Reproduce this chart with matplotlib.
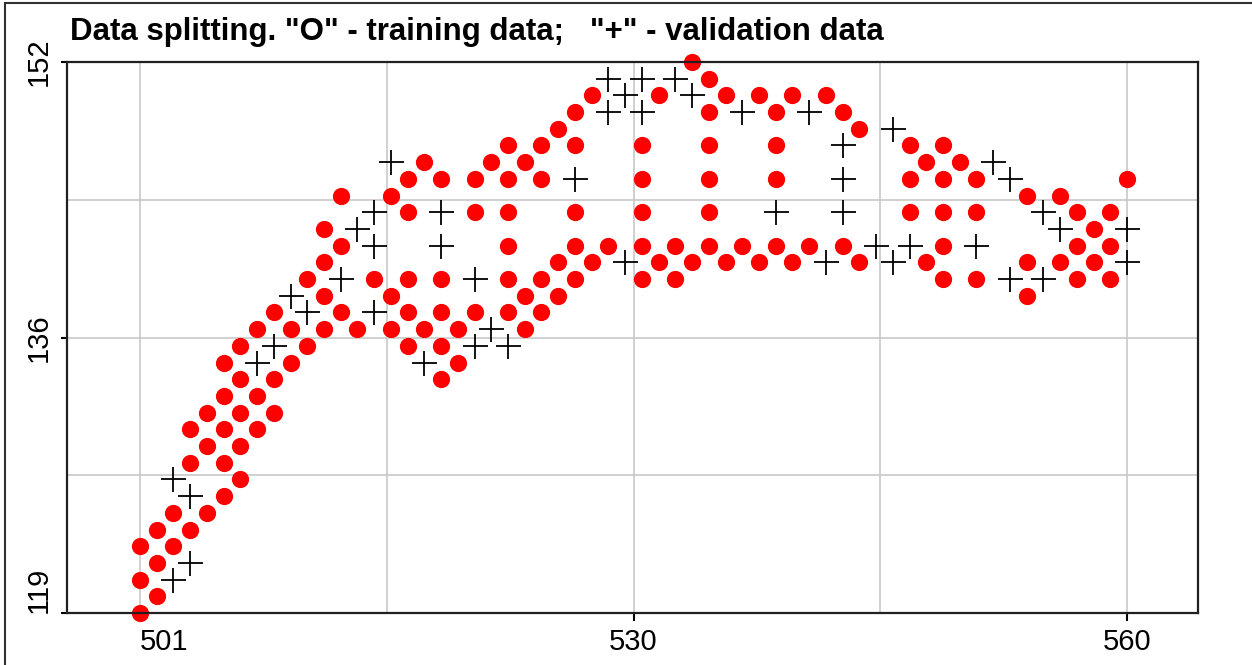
import matplotlib.pyplot as plt
from matplotlib.lines import Line2D

# observation days on the x axis
days = [501, 502, 503, 504, 505, 506, 507, 508, 509, 510,
        511, 512, 513, 514, 515, 516, 517, 518, 519, 520,
        521, 522, 523, 524, 525, 526, 527, 528, 529, 530,
        531, 532, 533, 534, 535, 536, 537, 538, 539, 540,
        541, 542, 543, 544, 545, 546, 547, 548, 549, 550,
        551, 552, 553, 554, 555, 556, 557, 558, 559, 560]

# training levels for each day (same order as days)
train_levels = [
    [119, 121, 123], [120, 122, 124], [123, 125], [124, 128, 130],
    [125, 129, 131], [126, 128, 130, 132, 134], [127, 129, 131, 133, 135],
    [130, 132, 136], [131, 133, 137], [134, 136],
    [135, 139], [136, 138, 140, 142], [137, 141, 144], [136], [139],
    [136, 138, 144], [135, 137, 139, 143, 145], [136, 146],
    [133, 135, 137, 139, 145], [134, 136],
    [137, 143, 145], [146], [137, 139, 141, 143, 145, 147], [136, 138, 146],
    [137, 139, 145, 147], [138, 140, 148], [139, 141, 143, 147, 149],
    [140, 150], [141], [],
    [139, 141, 143, 145, 147], [140, 150], [139, 141], [140, 152],
    [141, 143, 145, 147, 149, 151], [140, 150], [141], [140, 150],
    [141, 145, 147, 149], [140, 150],
    [141], [150], [141, 149], [140, 148], [], [], [143, 145, 147],
    [140, 146], [139, 141, 143, 145, 147], [146],
    [139, 143, 145], [], [], [138, 140, 144], [], [140, 144],
    [139, 141, 143], [140, 142], [139, 141, 143], [145],
]

# validation points
valid_days = [503, 503, 504, 504, 508, 509, 510, 511, 513, 514,
              515, 515, 515, 516, 518, 519, 519, 521, 521, 522,
              523, 527, 529, 529, 530, 530, 531, 531, 533, 534,
              537, 539, 541, 542, 543, 543, 543, 545, 546, 546,
              547, 551, 552, 553, 553, 555, 555, 556, 560, 560]
valid_levels = [121, 127, 122, 126, 134, 135, 138, 137, 139, 142,
                137, 141, 143, 146, 134, 141, 143, 135, 139, 136,
                135, 145, 149, 151, 140, 150, 149, 151, 151, 150,
                149, 143, 149, 140, 143, 145, 147, 141, 140, 148,
                141, 141, 146, 139, 145, 139, 143, 142, 140, 142]

x_grid = [501, 515.75, 530.5, 545.25, 560]
y_grid = [119, 127.25, 135.5, 143.75, 152]

plt.rcParams['font.family'] = ['Liberation Sans', 'DejaVu Sans']

train_x = [d for d, levels in zip(days, train_levels) for _ in levels]
train_y = [v for levels in train_levels for v in levels]

fig = plt.figure(figsize=(12.52, 6.65), dpi=100)
ax = fig.add_axes([67 / 1252, 52 / 665, 1131 / 1252, 551 / 665])

for xg in x_grid:
    ax.axvline(xg, color='#c8c8c8', lw=1.2, zorder=0)
for yg in y_grid:
    ax.axhline(yg, color='#c8c8c8', lw=1.2, zorder=0)

ax.plot(train_x, train_y, 'o', color='#ff0000', ms=11.4, mec='#ff0000',
        clip_on=False, zorder=2)
ax.plot(valid_days, valid_levels, '+', color='black', ms=18, mew=1.3,
        clip_on=False, zorder=3)

ax.set_xlim(496.64, 564.24)
ax.set_ylim(119, 152)

ax.set_xticks([501, 530.5, 560])
ax.set_xticklabels(['501', '530', '560'])
ax.set_yticks([119, 135.5, 152])
ax.set_yticklabels(['119', '136', '152'], rotation=90, va='center')
ax.get_yticklabels()[0].set_va('bottom')
ax.get_xticklabels()[0].set_ha('left')

ax.tick_params(axis='x', length=6, width=1.5, labelsize=21, pad=5)
ax.tick_params(axis='y', length=4, width=1.5, labelsize=21, pad=6)

for side in ['left', 'right', 'top', 'bottom']:
    ax.spines[side].set_linewidth(1.6)
    ax.spines[side].set_color('#202020')

# window frame along the left and top edges
fig.add_artist(Line2D([5 / 1252, 5 / 1252], [0, 1 - 3 / 665],
                      transform=fig.transFigure, color='#303030', lw=1.5))
fig.add_artist(Line2D([5 / 1252, 1], [1 - 3 / 665, 1 - 3 / 665],
                      transform=fig.transFigure, color='#303030', lw=1.5))

fig.text(70 / 1252, 1 - 32 / 665,
         'Data splitting. "O" - training data;   "+" - validation data',
         fontsize=22.5, fontweight='bold', va='center', ha='left')

fig.savefig('out.png', dpi=100)
